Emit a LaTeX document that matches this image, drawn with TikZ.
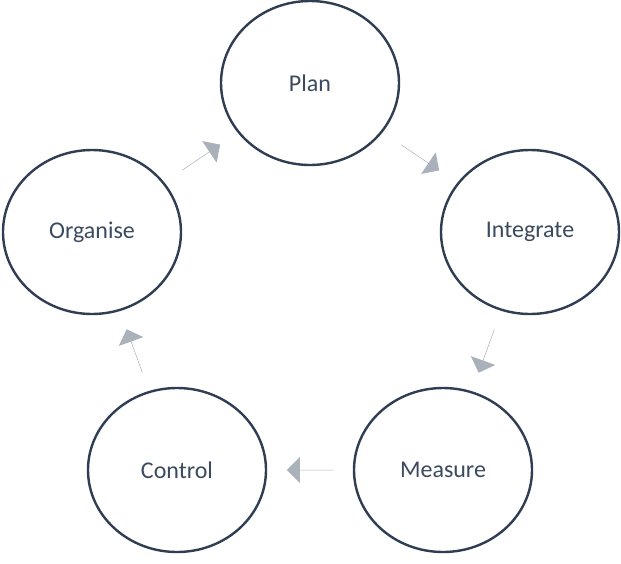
\documentclass[tikz,border=0pt]{standalone}
\usepackage{fontspec}
\setmainfont{Carlito}
\usetikzlibrary{shapes.geometric, shapes.arrows, calc}
\definecolor{ringline}{HTML}{2F3E52}
\definecolor{ringtext}{HTML}{3B4A5E}
\definecolor{flowgray}{HTML}{AAB1BB}
\tikzset{
	phase/.style={ellipse, draw=ringline, line width=2.4pt, fill=white, minimum width=178pt, minimum height=164pt, font=\fontsize{24}{28}\selectfont, text=ringtext},
	flow/.style={single arrow, fill=flowgray, draw=none, minimum height=46pt, minimum width=26pt, single arrow head extend=10pt, single arrow head indent=0pt, inner sep=0pt}
}

\begin{document}
\begin{tikzpicture}[x=1pt,y=-1pt]
\useasboundingbox (0,0) rectangle (621,563);
\node (plan) [phase] at (310,83) {Plan};
\node (integ) [phase] at (530,232) {Integrate};
\node (measure) [phase] at (443,470) {Measure};
\node (control) [phase] at (177,470) {Control};
\node (organise) [phase] at (92,232) {Organise};
\node (a1) [flow, rotate=-34] at ($(plan)!0.5!(integ)$) {};
\node (a2) [flow, rotate=-110] at ($(integ)!0.5!(measure)$) {};
\node (a3) [flow, rotate=180] at ($(measure)!0.5!(control)$) {};
\node (a4) [flow, rotate=110] at ($(control)!0.5!(organise)$) {};
\node (a5) [flow, rotate=34] at ($(organise)!0.5!(plan)$) {};
\end{tikzpicture}
\end{document}
